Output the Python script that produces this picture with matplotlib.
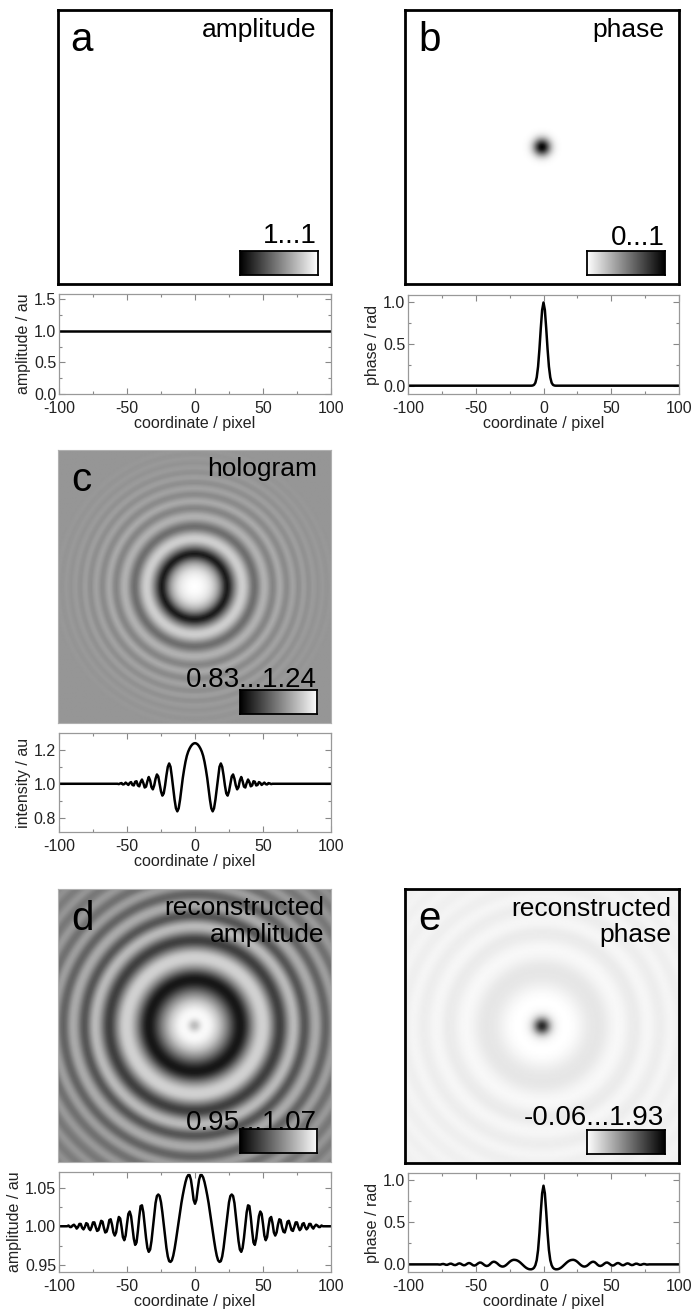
import numpy as np
import matplotlib
matplotlib.use("Agg")
import matplotlib.pyplot as plt
from matplotlib.colors import PowerNorm

plt.rcParams["font.family"] = ["Liberation Sans", "DejaVu Sans"]
plt.rcParams["axes.unicode_minus"] = False

# radial profiles at r = 0, 1, 2, ... pixel
radius = np.arange(0, 101)

amp_half = [1.0] * 101

phase_half = [1.0, 0.91, 0.69, 0.44, 0.23, 0.10, 0.035, 0.01, 0.002] + [0.0] * 92

holo_half = [
    1.240, 1.238, 1.232, 1.222, 1.208, 1.190, 1.165, 1.130, 1.085, 1.033,
    0.970, 0.905, 0.855, 0.837, 0.855, 0.905, 0.970, 1.040, 1.100, 1.120,
    1.100, 1.050, 0.990, 0.943, 0.930, 0.955, 1.000, 1.043, 1.055, 1.030,
    0.990, 0.967, 0.980, 1.020, 1.040, 1.015, 0.983, 0.978, 1.005, 1.025,
    1.010, 0.985, 0.990, 1.015, 1.012, 0.990, 0.993, 1.010, 1.005, 0.993,
    1.000, 1.007, 0.998, 0.996, 1.004, 1.002, 0.998, 1.000,
] + [1.0] * 43

rec_amp_half = [
    1.029, 1.034, 1.048, 1.060, 1.066, 1.066, 1.063, 1.057, 1.049, 1.040,
    1.030, 1.018, 1.006, 0.994, 0.982, 0.971, 0.962, 0.956, 0.954, 0.955,
    0.961, 0.972, 0.987, 1.003, 1.018, 1.031, 1.039, 1.041, 1.039, 1.030,
    1.014, 0.997, 0.981, 0.970, 0.967, 0.972, 0.985, 1.002, 1.018, 1.027,
    1.026, 1.012, 0.994, 0.979, 0.976, 0.984, 0.999, 1.013, 1.019, 1.016,
    1.003, 0.988, 0.982, 0.986, 0.999, 1.010, 1.012, 1.004, 0.992, 0.988,
    0.992, 1.002, 1.009, 1.008, 0.999, 0.993, 0.992, 0.998, 1.006, 1.007,
    1.001, 0.995, 0.994, 0.999, 1.005, 1.005, 0.999, 0.995, 0.997, 1.003,
    1.004, 0.999, 0.996, 0.998, 1.003, 1.003, 0.999, 0.997, 1.000, 1.002,
    1.001, 0.999, 0.999, 1.001,
] + [1.0] * 7

rec_phase_half = [
    0.930, 0.840, 0.620, 0.370, 0.170, 0.050, -0.010, -0.040, -0.053, -0.058,
    -0.058, -0.055, -0.048, -0.038, -0.025, -0.010, 0.005, 0.020, 0.033, 0.043,
    0.050, 0.053, 0.054, 0.050, 0.042, 0.030, 0.015, 0.000, -0.013, -0.022,
    -0.026, -0.024, -0.017, -0.005, 0.010, 0.022, 0.030, 0.031, 0.024, 0.010,
    -0.006, -0.016, -0.019, -0.014, -0.003, 0.010, 0.020, 0.022, 0.015, 0.003,
    -0.009, -0.014, -0.010, 0.001, 0.012, 0.016, 0.011, 0.000, -0.009, -0.010,
    -0.003, 0.007, 0.012, 0.008, -0.002, -0.008, -0.007, 0.001, 0.008, 0.008,
    0.001, -0.005, -0.005, 0.001, 0.005, 0.003, -0.002, -0.002,
] + [0.0] * 23

letters = ["a", "b", "c", "d", "e"]
titles = [["amplitude"], ["phase"], ["hologram"],
          ["reconstructed", "amplitude"], ["reconstructed", "phase"]]
ranges = ["1...1", "0...1", "0.83...1.24", "0.95...1.07", "-0.06...1.93"]
ylabels = ["amplitude / au", "phase / rad", "intensity / au",
           "amplitude / au", "phase / rad"]
yticks = [[0.0, 0.5, 1.0, 1.5], [0.0, 0.5, 1.0], [0.8, 1.0, 1.2],
          [0.95, 1.00, 1.05], [0.0, 0.5, 1.0]]
ytick_fmt = ["%.1f", "%.1f", "%.1f", "%.2f", "%.1f"]
ylims = [(0, 1.58), (-0.1, 1.09), (0.715, 1.30), (0.941, 1.07), (-0.09, 1.08)]
profiles = [amp_half, phase_half, holo_half, rec_amp_half, rec_phase_half]

# image display settings
cmaps = ["gray", "gray_r", "gray", "gray", "gray_r"]
vlims = [(0, 1), (0, 1), (0.83, 1.24), (0.95, 1.07), (-0.06, 1.1)]
gammas = [1.0, 1.0, 0.6, 0.72, 1.0]
framed = [True, True, False, False, True]

# pixel boxes (x0, y0, x1, y1) in the 692x1309 figure
img_boxes = [(57, 10, 332, 284), (405, 10, 679, 284), (58, 450, 331, 723),
             (58, 889, 331, 1162), (405, 889, 679, 1163)]
prof_boxes = [(59, 294, 331, 394), (408, 295, 679, 394), (59, 733, 331, 832),
              (59, 1172, 331, 1272), (408, 1173, 679, 1272)]
range_y = [0.149, 0.142, 0.132, 0.118, 0.139]
title_x = [0.945, 0.945, 0.949, 0.974, 0.971]

W, H = 692, 1309
fig = plt.figure(figsize=(W / 100, H / 100), dpi=100)


def px_axes(box):
    x0, y0, x1, y1 = box
    return fig.add_axes([x0 / W, 1 - y1 / H, (x1 - x0) / W, (y1 - y0) / H])


half_width = 54
grid = np.arange(-half_width, half_width + 0.01, 0.5)
gx, gy = np.meshgrid(grid, grid)
rr = np.hypot(gx, gy)
coord = np.arange(-100, 101)
gradient = np.linspace(0, 1, 256).reshape(1, -1)

for i in range(5):
    half = np.array(profiles[i])

    # image panel, rebuilt from the radial profile
    ax = px_axes(img_boxes[i])
    img = np.interp(rr, radius, half)
    norm = PowerNorm(gamma=gammas[i], vmin=vlims[i][0], vmax=vlims[i][1])
    ax.imshow(img, cmap=cmaps[i], norm=norm,
              extent=[-half_width, half_width, -half_width, half_width],
              interpolation="bilinear")
    ax.set_xticks([])
    ax.set_yticks([])
    for sp in ax.spines.values():
        if framed[i]:
            sp.set_linewidth(2.0)
            sp.set_color("black")
        else:
            sp.set_linewidth(0.8)
            sp.set_color("#b0b0b0")

    ax.text(0.048, 0.85, letters[i], transform=ax.transAxes, fontsize=29,
            ha="left", va="baseline")
    for k, line in enumerate(titles[i]):
        ax.text(title_x[i], 0.903 - k * 0.098, line, transform=ax.transAxes,
                fontsize=19, ha="right", va="baseline")
    ax.text(0.947, range_y[i], ranges[i], transform=ax.transAxes, fontsize=20,
            ha="right", va="baseline", zorder=10)

    cax = ax.inset_axes([0.665, 0.034, 0.284, 0.088])
    cax.imshow(gradient, cmap=cmaps[i], aspect="auto")
    cax.set_xticks([])
    cax.set_yticks([])
    for sp in cax.spines.values():
        sp.set_linewidth(1.3)
        sp.set_color("black")

    # line profile through the centre
    pax = px_axes(prof_boxes[i])
    full = np.concatenate([half[:0:-1], half])
    pax.plot(coord, full, color="black", lw=1.8)
    pax.set_xlim(-100, 100)
    pax.set_ylim(*ylims[i])
    pax.set_xticks([-100, -50, 0, 50, 100])
    pax.set_xticks([-75, -25, 25, 75], minor=True)
    pax.set_yticks(yticks[i])
    pax.set_yticklabels([ytick_fmt[i] % v for v in yticks[i]])
    step = yticks[i][1] - yticks[i][0]
    pax.set_yticks([v + step / 2 for v in yticks[i][:-1]], minor=True)
    pax.tick_params(which="both", direction="in", top=True, right=True,
                    color="#888888", labelsize=11.5, labelcolor="#222222")
    pax.tick_params(axis="x", pad=5)
    pax.tick_params(axis="y", pad=2)
    pax.tick_params(which="major", length=4, width=0.8)
    pax.tick_params(which="minor", length=2.5, width=0.8)
    for sp in pax.spines.values():
        sp.set_color("#999999")
        sp.set_linewidth(0.9)
    pax.set_xlabel("coordinate / pixel", fontsize=11.5, color="#222222",
                   labelpad=0)
    pax.set_ylabel(ylabels[i], fontsize=11.5, color="#222222", labelpad=2)

fig.savefig("out.png", dpi=100)
